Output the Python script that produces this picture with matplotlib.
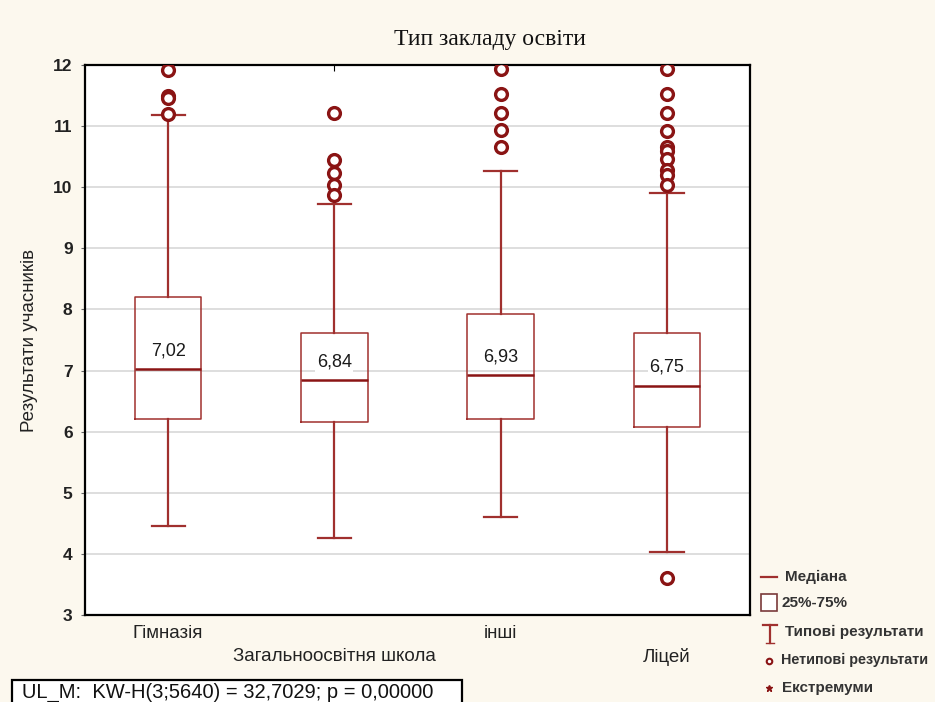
import matplotlib
matplotlib.use("Agg")
import matplotlib.pyplot as plt
from matplotlib.patches import Rectangle
from matplotlib.lines import Line2D

plt.rcParams['font.family'] = ['Liberation Sans', 'DejaVu Sans']

# ---- data ----
categories = ["Гімназія", "Загальноосвітня школа", "інші", "Ліцей"]
medians = [7.02, 6.84, 6.93, 6.75]
q1 = [6.20, 6.16, 6.20, 6.07]
q3 = [8.20, 7.62, 7.92, 7.62]
whisk_lo = [4.46, 4.26, 4.61, 4.03]
whisk_hi = [11.18, 9.72, 10.26, 9.90]
outliers = [
    [11.92, 11.50, 11.46, 11.20],
    [11.21, 10.44, 10.23, 10.03, 9.87],
    [11.93, 11.52, 11.21, 10.93, 10.66],
    [11.93, 11.52, 11.21, 10.92, 10.66, 10.60, 10.46, 10.28, 10.20, 10.03, 3.61],
]
median_labels = ["7,02", "6,84", "6,93", "6,75"]
yticks = [3, 4, 5, 6, 7, 8, 9, 10, 11, 12]
title = "Тип закладу освіти"
ylabel = "Результати учасників"
stat_text = "UL_M:  KW-H(3;5640) = 32,7029; p = 0,00000"
legend_labels = ["Медіана", "25%-75%", "Типові результати", "Нетипові результати", "Екстремуми"]

BG = '#FCF8EE'
RED = '#A0302E'
DRED = '#8A1414'

fig = plt.figure(figsize=(9.35, 7.02), dpi=100, facecolor=BG)
ax = fig.add_axes([85/935, 1-615/702, (750-85)/935, (615-65)/702])
ax.set_facecolor('white')

stats = []
for i in range(len(categories)):
    stats.append(dict(med=medians[i], q1=q1[i], q3=q3[i],
                      whislo=whisk_lo[i], whishi=whisk_hi[i],
                      fliers=outliers[i], label=categories[i]))
positions = [0.5 + i for i in range(len(categories))]
ax.bxp(stats, positions=positions, widths=0.4, showfliers=True,
       boxprops=dict(color=RED, linewidth=1.1),
       medianprops=dict(color=DRED, linewidth=1.8),
       whiskerprops=dict(color=RED, linewidth=1.6),
       capprops=dict(color=RED, linewidth=1.6),
       capwidths=0.2,
       flierprops=dict(marker='o', markerfacecolor='white', markeredgecolor=DRED,
                       markersize=8.5, markeredgewidth=2.4, linestyle='none'),
       zorder=3)

for i, p in enumerate(positions):
    ax.text(p, medians[i] + 0.3, median_labels[i], ha='center', va='center',
            fontsize=13, color='#1a1a1a', zorder=5,
            bbox=dict(facecolor='white', edgecolor='none', pad=1))

ax.set_xlim(0, 4)
ax.set_ylim(3, 12)
ax.set_yticks(yticks)
ax.set_yticklabels([str(t) for t in yticks], fontsize=12.5, fontweight='bold', color='#222222')
ax.yaxis.grid(True, color='#D8D8D8', linewidth=1.2, zorder=0)
ax.set_axisbelow(True)
ax.set_xticks(positions)
ax.set_xticklabels(categories, fontsize=13.5, color='#222222')
ax.tick_params(axis='x', top=True, bottom=False, direction='in', length=4, color='black', pad=7)
ax.tick_params(axis='y', direction='out', length=3, color='#666666', pad=6)
for i, lbl in enumerate(ax.get_xticklabels()):
    if i % 2 == 1:
        lbl.set_y(-0.042)
for s in ax.spines.values():
    s.set_linewidth(1.6)
    s.set_color('black')

fig.text(490/935, 1-40/702, title, ha='center', va='center', fontsize=17,
         family=['Liberation Serif', 'DejaVu Serif'], color='#111111')
fig.text(30/935, 1-340/702, ylabel, rotation=90, ha='center', va='center',
         fontsize=13.5, color='#222222')

# overlay in pixel coords for legend & stat box
ov = fig.add_axes([0, 0, 1, 1], facecolor='none')
ov.set_xlim(0, 935)
ov.set_ylim(702, 0)
ov.axis('off')

lfont = dict(fontsize=11, fontweight='bold', color='#333333',
             family=['Liberation Sans Narrow', 'Liberation Sans', 'DejaVu Sans'], va='center')
ov.add_line(Line2D([761, 777], [577, 577], color=RED, linewidth=1.6))
ov.text(785, 577, legend_labels[0], **lfont)
ov.add_patch(Rectangle((761, 594), 16, 17, facecolor='white', edgecolor='#7A3A3A', linewidth=1.2))
ov.text(782, 603, legend_labels[1], **lfont)
ov.add_line(Line2D([763, 777], [625, 625], color=RED, linewidth=1.6))
ov.add_line(Line2D([770, 770], [625, 643], color=RED, linewidth=1.6))
ov.add_line(Line2D([766, 774], [643, 643], color=RED, linewidth=1.0))
ov.text(785, 632, legend_labels[2], **lfont)
ov.add_line(Line2D([769], [661], marker='o', markersize=4, markerfacecolor='white',
                   markeredgecolor=DRED, markeredgewidth=1.5, linestyle='none'))
lfont_small = dict(lfont, fontsize=10.4)
ov.text(781, 660, legend_labels[3], **lfont_small)
ov.add_line(Line2D([769], [688], marker='*', markersize=5, color=DRED, linestyle='none'))
ov.text(782, 688, legend_labels[4], **lfont)

ov.add_patch(Rectangle((12, 680), 450, 30, facecolor='white', edgecolor='black', linewidth=1.6))
ov.text(22, 692, stat_text, fontsize=14.5, color='#111111', va='center', ha='left')

fig.savefig('out.png', dpi=100, facecolor=BG)
